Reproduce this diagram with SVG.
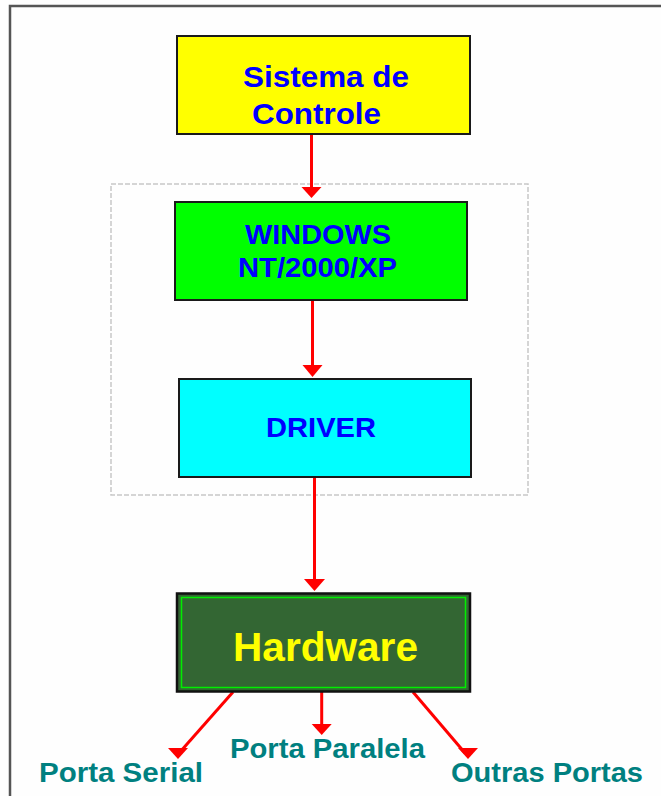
<svg xmlns="http://www.w3.org/2000/svg" width="661" height="796" viewBox="0 0 661 796">
<style>
.box{stroke:#1a1a1a;stroke-width:2}
.t{font-family:"Liberation Sans",Arial,sans-serif;font-weight:bold}
.blue{fill:#0000ff}
.teal{fill:#008080;font-size:27px}
.ln{stroke:#ff0000;stroke-width:3;fill:none}
.hd{fill:#ff0000}
</style>
<rect x="0" y="0" width="661" height="796" fill="#fefefe"/>
<rect id="frame" x="10" y="6" width="700" height="850" fill="none" stroke="#555" stroke-width="2.5"/>
<rect id="group" x="111" y="184" width="417" height="311" fill="none" stroke="#c8c8c8" stroke-width="1.5" stroke-dasharray="5,2"/>

<g id="connectors">
<line class="ln" x1="311.5" y1="135" x2="311.5" y2="190"/>
<polygon class="hd" points="301.5,187 321.5,187 311.5,198"/>
<line class="ln" x1="312.5" y1="301" x2="312.5" y2="368"/>
<polygon class="hd" points="302.5,365 322.5,365 312.5,377"/>
<line class="ln" x1="314.5" y1="477" x2="314.5" y2="582"/>
<polygon class="hd" points="304,579 325,579 314.5,591"/>
<line class="ln" x1="233" y1="692" x2="180" y2="752"/>
<polygon class="hd" points="168,748 188,748 178,759"/>
<line class="ln" x1="321.7" y1="692" x2="321.7" y2="728"/>
<polygon class="hd" points="311.7,724 331.7,724 321.7,735"/>
<line class="ln" x1="413" y1="692" x2="465" y2="753"/>
<polygon class="hd" points="458,748 478,748 468,759"/>
</g>

<g id="sistema">
<rect class="box" x="177" y="36" width="293" height="98" fill="#ffff00"/>
<text class="t blue" x="243" y="87" font-size="30" textLength="166" lengthAdjust="spacingAndGlyphs">Sistema de</text>
<text class="t blue" x="252" y="124" font-size="30" textLength="129" lengthAdjust="spacingAndGlyphs">Controle</text>
</g>

<g id="windows">
<rect class="box" x="175" y="202" width="292" height="98" fill="#00ff00"/>
<text class="t blue" x="245" y="244" font-size="27" textLength="146" lengthAdjust="spacingAndGlyphs">WINDOWS</text>
<text class="t blue" x="238" y="277" font-size="27" textLength="159" lengthAdjust="spacingAndGlyphs">NT/2000/XP</text>
</g>

<g id="driver">
<rect class="box" x="179" y="379" width="292" height="98" fill="#00ffff"/>
<text class="t blue" x="266" y="437" font-size="28" textLength="110" lengthAdjust="spacingAndGlyphs">DRIVER</text>
</g>

<g id="hardware">
<rect x="177" y="593.5" width="293" height="98" fill="#336633" stroke="#111" stroke-width="2.5"/>
<rect x="181.5" y="597.5" width="284" height="90" fill="none" stroke="#00ee00" stroke-width="1.5"/>
<text class="t" x="233" y="661" font-size="40" fill="#ffff00" textLength="185" lengthAdjust="spacingAndGlyphs">Hardware</text>
</g>

<g id="labels">
<text id="serial" class="t teal" x="39" y="782" textLength="164" lengthAdjust="spacingAndGlyphs">Porta Serial</text>
<text id="paralela" class="t teal" x="230" y="758" textLength="195" lengthAdjust="spacingAndGlyphs">Porta Paralela</text>
<text id="outras" class="t teal" x="451" y="782" textLength="192" lengthAdjust="spacingAndGlyphs">Outras Portas</text>
</g>
</svg>
